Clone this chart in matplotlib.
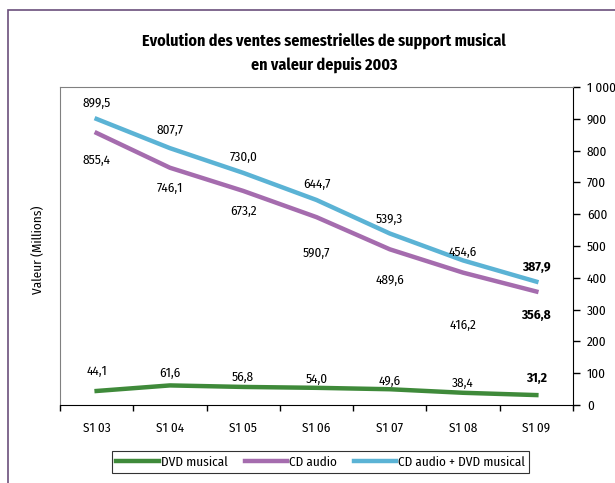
import matplotlib.pyplot as plt
from matplotlib import font_manager
from matplotlib.patches import Rectangle

# Semestrial sales of music media (millions)
periods = ["S1 03", "S1 04", "S1 05", "S1 06", "S1 07", "S1 08", "S1 09"]
dvd = [44.1, 61.6, 56.8, 54.0, 49.6, 38.4, 31.2]
cd = [855.4, 746.1, 673.2, 590.7, 489.6, 416.2, 356.8]
total = [899.5, 807.7, 730.0, 644.7, 539.3, 454.6, 387.9]

# label offsets (points) relative to each point
dvd_off = [14, 9, 7, 6, 6, 7, 12]
cd_off = [-20, -15, -15, -26, -22, -38, -17]
total_off = [11, 13, 11, 11, 10, 6, 10]

# pick a condensed font close to the original
installed = {f.name for f in font_manager.fontManager.ttflist}
candidates = ['Fira Sans Condensed', 'PT Sans Narrow', 'Open Sans Condensed',
              'Encode Sans Condensed', 'Roboto Condensed', 'Archivo Narrow',
              'Liberation Sans Narrow']
font = next((c for c in candidates if c in installed), 'DejaVu Sans')
plt.rcParams['font.family'] = [font, 'DejaVu Sans']

fig = plt.figure(figsize=(6.15, 4.83), dpi=100)
ax = fig.add_axes([60 / 615, 1 - 405 / 483, 513 / 615, 318 / 483])

# purple frame around the chart
fig.patches.append(Rectangle((8 / 615, -0.1), 1.2, 1 - 10 / 483 + 0.1,
                             transform=fig.transFigure, fill=False,
                             edgecolor='#6b4f7c', linewidth=1.2))

x = list(range(len(periods)))
ax.plot(x, dvd, color='#3f8a3a', lw=3.2, label="DVD musical")
ax.plot(x, cd, color='#a56cae', lw=3.2, label="CD audio")
ax.plot(x, total, color='#5bb3d5', lw=3.2, label="CD audio + DVD musical")

def fmt(v):
    return f"{v:.1f}".replace('.', ',')

for series, offs in ((total, total_off), (cd, cd_off), (dvd, dvd_off)):
    for i, v in enumerate(series):
        last = i == len(series) - 1
        ax.annotate(fmt(v), (i, v), xytext=(0, offs[i]), textcoords='offset points',
                    ha='center', va='center', fontsize=9.5,
                    fontweight='bold' if last else 'normal')

ax.set_xlim(-0.5, len(periods) - 0.5)
ax.set_ylim(0, 1000)
ax.set_xticks([i - 0.5 for i in range(len(periods) + 1)])
ax.set_xticklabels([])
ax.set_xticks(x, minor=True)
ax.set_xticklabels(periods, minor=True, fontsize=9.5)
ax.tick_params(axis='x', which='minor', length=0, pad=12)
ax.tick_params(axis='x', which='major', direction='out', length=4, width=1)

ax.yaxis.tick_right()
ax.set_yticks(range(0, 1001, 100))
ax.set_yticklabels([f"{v:,}".replace(',', ' ') for v in range(0, 1001, 100)], fontsize=9.5)
ax.tick_params(axis='y', direction='out', length=5, width=1, pad=5)

ax.spines['top'].set_color('#808080')
ax.spines['left'].set_color('#808080')
ax.spines['right'].set_color('black')
ax.spines['bottom'].set_color('black')

fig.text(38 / 615, 1 - 250 / 483, "Valeur (Millions)", rotation=90, ha='center', va='center',
         fontsize=9.5)
fig.text(324 / 615, 1 - 53 / 483,
         "Evolution des ventes semestrielles de support musical\nen valeur depuis 2003",
         ha='center', va='center', fontsize=11.5, fontweight='bold', linespacing=1.6)

leg = ax.legend(loc='center', bbox_to_anchor=(0.508, -0.179), ncol=3, frameon=True,
                fancybox=False, edgecolor='black', fontsize=9.5, handlelength=3.2,
                handletextpad=0.15, columnspacing=1.3, borderpad=0.35)
leg.get_frame().set_linewidth(0.8)

fig.savefig("out.png", dpi=100)
